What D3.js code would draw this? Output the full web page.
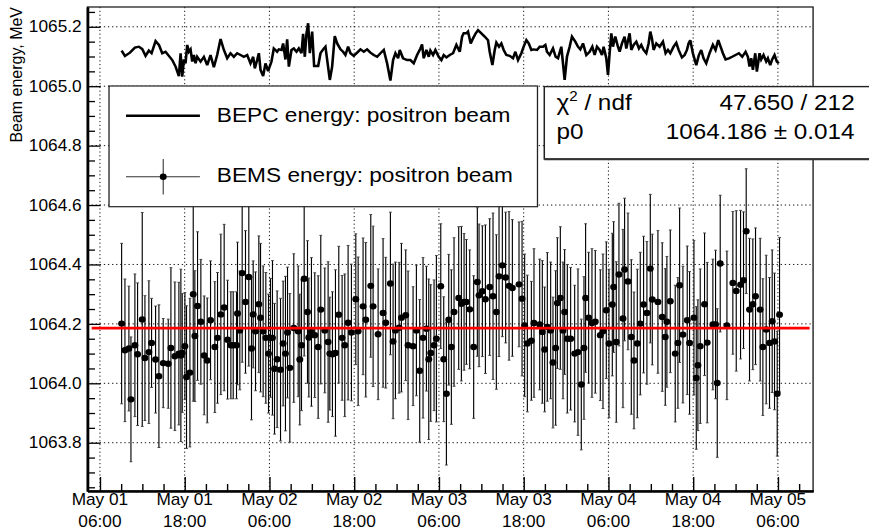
<!DOCTYPE html>
<html>
<head>
<meta charset="utf-8">
<script src="https://cdn.jsdelivr.net/npm/d3@7"></script>
<style>
  html, body { margin: 0; padding: 0; background: #fff; }
  svg { display: block; font-family: "Liberation Sans", Arial, Helvetica, sans-serif; }
</style>
</head>
<body>
<svg id="chart"></svg>
<script>
// ---- data: hours are counted from May 01 00:00 ----
const bemsHours = [
  9.07, 9.54, 10.10, 10.39, 10.95, 11.33, 11.99, 12.37, 12.93, 13.31,
  13.88, 14.35, 14.96, 15.67, 16.05, 16.61, 17.18, 17.46, 17.65, 18.03,
  18.26, 18.74, 19.21, 19.44, 19.82, 20.29, 20.76, 21.19, 21.66, 22.27,
  22.65, 23.12, 23.59, 24.07, 24.54, 24.87, 25.34, 25.48, 25.81, 26.14,
  26.61, 27.08, 27.46, 27.70, 28.03, 28.50, 28.74, 29.11, 29.49, 29.87,
  30.15, 30.43, 30.72, 31.09, 31.57, 31.94, 32.27, 32.56, 32.89, 33.45,
  34.07, 34.30, 34.54, 34.92, 35.39, 35.58, 35.95, 36.42, 36.90, 37.27,
  37.84, 38.31, 38.55, 38.92, 39.35, 39.82, 40.29, 40.67, 41.14, 41.61,
  42.23, 42.56, 43.26, 43.64, 44.35, 44.68, 45.39, 46.09, 46.47, 47.13,
  47.51, 47.84, 48.36, 48.69, 49.30, 49.63, 50.34, 50.81, 51.28, 51.75,
  52.23, 52.56, 52.84, 53.31, 53.64, 54.26, 54.68, 55.06, 55.39, 55.76,
  56.14, 56.80, 57.18, 57.56, 57.89, 58.36, 58.92, 59.44, 59.68, 60.15,
  60.58, 61.19, 61.66, 62.13, 62.51, 62.98, 63.45, 63.93, 64.40, 65.34,
  65.77, 66.14, 66.52, 67.09, 67.46, 68.27, 68.64, 68.97, 69.35, 69.82,
  70.15, 70.53, 70.77, 71.19, 71.57, 71.80, 72.18, 72.65, 73.22, 73.69,
  74.16, 74.54, 74.77, 75.20, 75.67, 76.14, 76.85, 77.23, 77.70, 78.08,
  78.55, 78.74, 79.11, 79.49, 80.06, 80.29, 80.77, 81.24, 81.62, 82.09,
  82.51, 82.98, 83.45, 83.93, 84.21, 85.01, 85.62, 86.05, 86.28, 86.76,
  87.46, 87.84, 88.08, 88.55, 89.16, 89.49, 90.11, 90.44, 90.67, 91.00,
  91.61, 91.99, 92.79, 93.17, 93.41, 93.83, 94.78, 95.62, 96.10, 96.71,
  97.13, 97.51, 97.98, 98.45, 98.83, 99.49, 99.87, 100.34, 100.81, 101.19,
  101.52, 101.90, 102.23
];
const bemsEnergy = [
  1064.201, 1064.111, 1064.117, 1063.946, 1064.128, 1064.098, 1064.215, 1064.085, 1064.105, 1064.136,
  1064.080, 1064.024, 1064.068, 1064.066, 1064.119, 1064.091, 1064.100, 1064.094, 1064.102, 1064.125,
  1064.021, 1064.036, 1064.300, 1064.159, 1064.260, 1064.207, 1064.094, 1064.077, 1064.212, 1064.122,
  1064.153, 1064.232, 1064.255, 1064.147, 1064.128, 1064.128, 1064.128, 1064.235, 1064.178, 1064.371,
  1064.274, 1064.358, 1064.117, 1064.232, 1064.175, 1064.266, 1064.221, 1064.175, 1064.153, 1064.100,
  1064.153, 1064.153, 1064.049, 1064.081, 1064.046, 1064.134, 1064.100, 1064.171, 1064.052, 1064.186,
  1064.175, 1064.080, 1064.128, 1064.352, 1064.240, 1064.154, 1064.173, 1064.162, 1064.122, 1064.248,
  1064.178, 1064.139, 1064.100, 1064.098, 1064.102, 1064.231, 1064.153, 1064.128, 1064.204, 1064.171,
  1064.283, 1064.175, 1064.259, 1064.214, 1064.328, 1064.259, 1064.165, 1064.237, 1064.204, 1064.336,
  1064.141, 1064.178, 1064.187, 1064.221, 1064.229, 1064.128, 1064.125, 1064.178, 1064.042, 1064.153,
  1064.184, 1064.081, 1064.102, 1064.128, 1064.150, 1064.327, 1064.081, 1063.965, 1064.214, 1064.122,
  1064.240, 1064.287, 1064.268, 1064.274, 1064.274, 1064.249, 1064.122, 1064.341, 1064.296, 1064.310,
  1064.283, 1064.324, 1064.293, 1064.240, 1064.360, 1064.397, 1064.356, 1064.328, 1064.321, 1064.333,
  1064.285, 1064.195, 1064.134, 1064.143, 1064.203, 1064.198, 1064.173, 1064.114, 1064.190, 1064.178,
  1064.070, 1064.119, 1064.270, 1064.287, 1064.178, 1064.240, 1064.150, 1064.150, 1064.100, 1064.105,
  1063.996, 1064.119, 1064.287, 1064.221, 1064.203, 1064.207, 1064.162, 1064.175, 1064.246, 1064.134,
  1064.265, 1064.324, 1064.139, 1064.366, 1064.218, 1064.383, 1064.343, 1064.156, 1064.077, 1064.134,
  1064.201, 1064.265, 1064.237, 1064.386, 1064.282, 1064.274, 1064.223, 1064.156, 1064.207, 1064.276,
  1064.100, 1064.136, 1064.330, 1064.164, 1064.212, 1064.136, 1064.221, 1064.018, 1064.061, 1064.125,
  1064.266, 1064.137, 1064.198, 1064.198, 1064.001, 1064.403, 1064.195, 1064.338, 1064.311, 1064.332,
  1064.347, 1064.512, 1064.248, 1064.266, 1064.293, 1064.248, 1064.122, 1064.181, 1064.136, 1064.209,
  1064.141, 1063.965, 1064.231
];
const bemsError = [
  0.27, 0.24, 0.21, 0.21, 0.24, 0.24, 0.36, 0.21, 0.24, 0.15,
  0.18, 0.24, 0.15, 0.15, 0.27, 0.25, 0.24, 0.29, 0.20, 0.18,
  0.24, 0.25, 0.36, 0.22, 0.25, 0.21, 0.20, 0.21, 0.20, 0.22,
  0.22, 0.27, 0.28, 0.20, 0.18, 0.18, 0.18, 0.24, 0.20, 0.30,
  0.24, 0.30, 0.24, 0.18, 0.20, 0.23, 0.25, 0.22, 0.22, 0.20,
  0.20, 0.26, 0.22, 0.23, 0.24, 0.21, 0.26, 0.22, 0.25, 0.25,
  0.22, 0.22, 0.22, 0.26, 0.24, 0.20, 0.25, 0.21, 0.24, 0.25,
  0.21, 0.27, 0.19, 0.21, 0.28, 0.23, 0.21, 0.24, 0.26, 0.23,
  0.22, 0.25, 0.23, 0.26, 0.24, 0.27, 0.22, 0.25, 0.22, 0.24,
  0.26, 0.23, 0.22, 0.25, 0.22, 0.25, 0.20, 0.22, 0.24, 0.27,
  0.21, 0.27, 0.23, 0.22, 0.28, 0.21, 0.21, 0.24, 0.22, 0.26,
  0.25, 0.24, 0.26, 0.23, 0.21, 0.20, 0.24, 0.25, 0.24, 0.22,
  0.25, 0.23, 0.28, 0.26, 0.27, 0.24, 0.22, 0.25, 0.23, 0.21,
  0.26, 0.24, 0.23, 0.20, 0.25, 0.22, 0.24, 0.21, 0.25, 0.23,
  0.22, 0.26, 0.22, 0.24, 0.23, 0.21, 0.25, 0.24, 0.23, 0.28,
  0.22, 0.24, 0.25, 0.22, 0.25, 0.24, 0.22, 0.26, 0.23, 0.25,
  0.24, 0.22, 0.27, 0.24, 0.30, 0.24, 0.23, 0.26, 0.23, 0.25,
  0.24, 0.23, 0.24, 0.25, 0.22, 0.24, 0.25, 0.23, 0.22, 0.24,
  0.23, 0.22, 0.26, 0.23, 0.25, 0.24, 0.26, 0.24, 0.22, 0.26,
  0.24, 0.27, 0.22, 0.25, 0.25, 0.23, 0.25, 0.24, 0.27, 0.25,
  0.23, 0.21, 0.24, 0.22, 0.23, 0.24, 0.23, 0.25, 0.22, 0.24,
  0.23, 0.21, 0.26
];
const bepcHours = [
  9.07, 9.54, 10.25, 10.95, 11.52, 11.99, 12.46, 12.93, 13.31, 13.88,
  14.35, 14.82, 15.29, 15.76, 16.24, 16.71, 17.18, 17.42, 17.65, 17.89,
  18.12, 18.36, 18.59, 18.83, 19.07, 19.30, 19.54, 19.77, 20.25, 20.72,
  21.19, 21.66, 22.13, 22.60, 23.08, 23.55, 24.02, 24.49, 24.96, 25.43,
  25.91, 26.38, 26.85, 27.32, 27.70, 27.93, 28.26, 28.50, 28.74, 29.11,
  29.44, 29.82, 30.06, 30.29, 30.62, 30.86, 31.09, 31.33, 31.71, 31.94,
  32.27, 32.51, 32.75, 33.12, 33.45, 33.83, 34.16, 34.54, 34.77, 35.01,
  35.25, 35.48, 35.72, 36.05, 36.33, 36.90, 37.23, 37.60, 37.93, 38.55,
  38.88, 39.25, 39.59, 40.06, 40.43, 40.76, 41.14, 41.47, 41.94, 42.42,
  42.89, 43.36, 43.83, 44.30, 44.77, 45.25, 45.72, 46.19, 46.66, 47.13,
  47.51, 47.84, 48.22, 48.45, 48.92, 49.49, 49.96, 50.43, 50.91, 51.38,
  51.61, 51.85, 52.23, 52.56, 52.79, 53.17, 53.50, 53.97, 54.35, 54.68,
  55.06, 55.53, 56.00, 56.47, 56.95, 57.28, 57.51, 57.89, 58.12, 58.50,
  58.83, 59.21, 59.54, 60.01, 60.48, 60.95, 61.19, 61.57, 61.90, 62.13,
  62.51, 62.84, 63.17, 63.55, 64.02, 64.49, 64.82, 65.20, 65.67, 66.00,
  66.38, 66.71, 67.09, 67.42, 67.89, 68.27, 68.74, 69.07, 69.30, 69.68,
  70.15, 70.53, 70.86, 71.33, 71.80, 72.13, 72.51, 72.84, 73.31, 73.69,
  74.02, 74.40, 74.87, 75.34, 75.72, 76.05, 76.38, 76.76, 77.09, 77.32,
  77.70, 77.94, 78.17, 78.41, 78.64, 78.97, 79.35, 79.59, 79.92, 80.29,
  80.53, 81.00, 81.24, 81.57, 81.95, 82.32, 82.65, 82.98, 83.36, 83.69,
  83.93, 84.16, 84.40, 84.78, 85.25, 85.72, 86.10, 86.43, 86.76, 87.23,
  87.61, 87.94, 88.41, 88.79, 89.12, 89.35, 89.59, 89.96, 90.44, 90.81,
  91.14, 91.47, 91.85, 92.32, 92.79, 93.17, 93.55, 93.97, 94.21, 94.59,
  95.06, 95.53, 96.00, 96.47, 96.95, 97.42, 97.75, 97.98, 98.22, 98.46,
  98.79, 99.02, 99.40, 99.63, 99.96, 100.34, 100.58, 100.91, 101.19, 101.52,
  101.85, 102.13
];
const bepcEnergy = [
  1065.120, 1065.102, 1065.113, 1065.130, 1065.133, 1065.125, 1065.102, 1065.120, 1065.111, 1065.152,
  1065.139, 1065.111, 1065.116, 1065.102, 1065.088, 1065.066, 1065.034, 1065.111, 1065.032, 1065.090,
  1065.077, 1065.139, 1065.116, 1065.124, 1065.083, 1065.105, 1065.077, 1065.099, 1065.083, 1065.099,
  1065.071, 1065.105, 1065.064, 1065.105, 1065.159, 1065.122, 1065.094, 1065.111, 1065.099, 1065.111,
  1065.105, 1065.099, 1065.105, 1065.077, 1065.099, 1065.060, 1065.088, 1065.111, 1065.055, 1065.034,
  1065.077, 1065.051, 1065.068, 1065.083, 1065.127, 1065.122, 1065.116, 1065.124, 1065.122, 1065.144,
  1065.090, 1065.158, 1065.066, 1065.122, 1065.127, 1065.116, 1065.127, 1065.111, 1065.176, 1065.099,
  1065.178, 1065.212, 1065.111, 1065.184, 1065.068, 1065.068, 1065.111, 1065.124, 1065.133, 1065.021,
  1065.066, 1065.169, 1065.144, 1065.124, 1065.116, 1065.105, 1065.133, 1065.111, 1065.102, 1065.113,
  1065.124, 1065.116, 1065.124, 1065.113, 1065.105, 1065.099, 1065.111, 1065.122, 1065.077, 1065.019,
  1065.088, 1065.111, 1065.094, 1065.122, 1065.094, 1065.088, 1065.088, 1065.077, 1065.105, 1065.127,
  1065.141, 1065.094, 1065.122, 1065.099, 1065.120, 1065.105, 1065.122, 1065.099, 1065.088, 1065.105,
  1065.097, 1065.105, 1065.111, 1065.139, 1065.116, 1065.167, 1065.178, 1065.178, 1065.184, 1065.144,
  1065.161, 1065.178, 1065.189, 1065.178, 1065.167, 1065.155, 1065.116, 1065.071, 1065.122, 1065.147,
  1065.133, 1065.144, 1065.122, 1065.105, 1065.102, 1065.094, 1065.116, 1065.088, 1065.111, 1065.133,
  1065.155, 1065.144, 1065.122, 1065.124, 1065.122, 1065.133, 1065.133, 1065.139, 1065.116, 1065.105,
  1065.127, 1065.099, 1065.094, 1065.133, 1065.021, 1065.099, 1065.133, 1065.167, 1065.150, 1065.133,
  1065.124, 1065.144, 1065.105, 1065.116, 1065.133, 1065.105, 1065.133, 1065.122, 1065.105, 1065.133,
  1065.094, 1065.038, 1065.111, 1065.178, 1065.133, 1065.167, 1065.133, 1065.116, 1065.144, 1065.167,
  1065.127, 1065.178, 1065.122, 1065.139, 1065.150, 1065.127, 1065.139, 1065.122, 1065.111, 1065.144,
  1065.184, 1065.161, 1065.122, 1065.144, 1065.133, 1065.150, 1065.111, 1065.122, 1065.111, 1065.133,
  1065.146, 1065.122, 1065.097, 1065.105, 1065.122, 1065.144, 1065.155, 1065.111, 1065.071, 1065.105,
  1065.122, 1065.094, 1065.077, 1065.111, 1065.139, 1065.122, 1065.155, 1065.127, 1065.111, 1065.090,
  1065.094, 1065.099, 1065.105, 1065.111, 1065.099, 1065.116, 1065.099, 1065.066, 1065.094, 1065.055,
  1065.111, 1065.049, 1065.111, 1065.090, 1065.105, 1065.083, 1065.094, 1065.071, 1065.090, 1065.105,
  1065.083, 1065.077
];

// axis ranges and ticks
const xRangeHours = [4.23, 106.98];
const xMajorHours = [6, 18, 30, 42, 54, 66, 78, 90, 102];
const yRange = [1063.6375, 1065.2666];
const yMajorTicks = [1063.8, 1064.0, 1064.2, 1064.4, 1064.6, 1064.8, 1065.0, 1065.2];

// constant fit
const fitP0 = 1064.186, fitP0Err = 0.014, fitChi2 = 47.650, fitNdf = 212;
const fitRangeHours = [4.83, 106.49];

const legendLabels = ["BEPC energy: positron beam", "BEMS energy: positron beam"];
const yTitle = "Beam energy, MeV";

// ---- drawing ----
// The canvas is laid out on an 805-wide grid and stretched to the 869 px window.
const W = 869, H = 530, VW = 805;
const svg = d3.select("#chart")
  .attr("width", W).attr("height", H)
  .attr("viewBox", `0 0 ${VW} ${H}`)
  .attr("preserveAspectRatio", "none");

const frame = { left: 81, right: 753.2, top: 7, bottom: 491 };
const t0 = new Date(2015, 4, 1, 0, 0, 0);
const at = h => new Date(t0.getTime() + h * 3600e3);

const x = d3.scaleTime().domain(xRangeHours.map(at)).range([frame.left, frame.right]);
const y = d3.scaleLinear().domain(yRange).range([frame.bottom, frame.top]);

// background
svg.append("rect").attr("width", VW).attr("height", H).attr("fill", "#fff");

// dotted grid at the major ticks
const grid = svg.append("g")
  .attr("stroke", "#000").attr("stroke-width", 0.9).attr("stroke-dasharray", "1.2,2.6");
grid.selectAll("line.gx").data(xMajorHours).join("line").attr("class", "gx")
  .attr("x1", d => x(at(d))).attr("x2", d => x(at(d)))
  .attr("y1", frame.top).attr("y2", frame.bottom);
grid.selectAll("line.gy").data(yMajorTicks).join("line").attr("class", "gy")
  .attr("x1", frame.left).attr("x2", frame.right)
  .attr("y1", d => y(d)).attr("y2", d => y(d));

// frame (top and right edges)
svg.append("rect")
  .attr("x", frame.left).attr("y", frame.top)
  .attr("width", frame.right - frame.left).attr("height", frame.bottom - frame.top)
  .attr("fill", "none").attr("stroke", "#222").attr("stroke-width", 1.3);

// BEPC energy line
const bepc = bepcHours.map((h, i) => ({ t: at(h), e: bepcEnergy[i] }));
svg.append("path").datum(bepc)
  .attr("fill", "none").attr("stroke", "#000").attr("stroke-width", 2.4)
  .attr("stroke-linejoin", "miter").attr("stroke-miterlimit", 3)
  .attr("d", d3.line().x(d => x(d.t)).y(d => y(d.e)));

// BEMS points with error bars
const bems = bemsHours.map((h, i) => ({ t: at(h), e: bemsEnergy[i], err: bemsError[i] }));
const eb = svg.append("g").attr("stroke", "#000").attr("stroke-width", 1.05);
eb.selectAll("line.bar").data(bems).join("line").attr("class", "bar")
  .attr("x1", d => x(d.t)).attr("x2", d => x(d.t))
  .attr("y1", d => y(d.e - d.err)).attr("y2", d => y(d.e + d.err));
const caps = svg.append("g").attr("stroke", "#444").attr("stroke-width", 1);
caps.selectAll("line.ct").data(bems).join("line").attr("class", "ct")
  .attr("x1", d => x(d.t) - 1.3).attr("x2", d => x(d.t) + 1.3)
  .attr("y1", d => y(d.e + d.err)).attr("y2", d => y(d.e + d.err));
caps.selectAll("line.cb").data(bems).join("line").attr("class", "cb")
  .attr("x1", d => x(d.t) - 1.3).attr("x2", d => x(d.t) + 1.3)
  .attr("y1", d => y(d.e - d.err)).attr("y2", d => y(d.e - d.err));
svg.append("g").selectAll("circle").data(bems).join("circle")
  .attr("cx", d => x(d.t)).attr("cy", d => y(d.e)).attr("r", 3.2)
  .attr("fill", "#000");

// fit result
svg.append("line")
  .attr("x1", x(at(fitRangeHours[0]))).attr("x2", x(at(fitRangeHours[1])))
  .attr("y1", y(fitP0)).attr("y2", y(fitP0))
  .attr("stroke", "#ff0000").attr("stroke-width", 2.8);

// axes
const fontAxis = 16;
const xMajor = xMajorHours.map(at);
const xMinor = d3.timeHour.every(3).range(x.domain()[0], x.domain()[1])
  .filter(d => d.getHours() % 12 !== 6);
const yMinor = y.ticks(30).filter(v => Math.abs(v * 5 - Math.round(v * 5)) > 1e-6);

const gxMinor = svg.append("g").attr("transform", `translate(0,${frame.bottom})`)
  .call(d3.axisBottom(x).tickValues(xMinor).tickSize(-7).tickSizeOuter(0).tickFormat(""));
const gx = svg.append("g").attr("transform", `translate(0,${frame.bottom})`)
  .call(d3.axisBottom(x).tickValues(xMajor).tickSize(-14).tickSizeOuter(0).tickFormat(""));
const gyMinor = svg.append("g").attr("transform", `translate(${frame.left},0)`)
  .call(d3.axisLeft(y).tickValues(yMinor).tickSize(-7).tickSizeOuter(0).tickFormat(""));
const gy = svg.append("g").attr("transform", `translate(${frame.left},0)`)
  .call(d3.axisLeft(y).tickValues(yMajorTicks).tickSize(-12).tickSizeOuter(0)
    .tickPadding(5.4).tickFormat(d3.format(".1f")));

[gxMinor, gx, gyMinor, gy].forEach(g => {
  g.selectAll(".tick line").attr("stroke", "#000").attr("stroke-width", 1.3);
  g.select(".domain").attr("stroke", "#000").attr("stroke-width", 2.2);
});
gy.selectAll(".tick text")
  .attr("font-size", fontAxis).attr("fill", "#000")
  .attr("font-family", "Liberation Sans, Arial, sans-serif");

// two-line date labels under the time axis
const fmtDay = d3.timeFormat("%b %d"), fmtTime = d3.timeFormat("%H:%M");
const xl = svg.append("g").attr("font-size", fontAxis).attr("text-anchor", "middle").attr("fill", "#000");
xl.selectAll("text").data(xMajor).join("text")
  .each(function (d) {
    const t = d3.select(this);
    t.append("tspan").attr("x", x(d)).attr("y", 505.5).text(fmtDay(d));
    t.append("tspan").attr("x", x(d)).attr("y", 527).text(fmtTime(d));
  });

// y axis title
svg.append("text")
  .attr("transform", `translate(20.6,${frame.top}) rotate(-90)`)
  .attr("text-anchor", "end").attr("font-size", 16).attr("fill", "#000")
  .text(yTitle);

// legend
const lg = svg.append("g");
lg.append("rect").attr("x", 101).attr("y", 86).attr("width", 396.9).attr("height", 120.7)
  .attr("fill", "#fff").attr("stroke", "#222").attr("stroke-width", 1.2);
lg.append("line").attr("x1", 116.7).attr("x2", 185.2).attr("y1", 115.7).attr("y2", 115.7)
  .attr("stroke", "#000").attr("stroke-width", 2.4);
lg.append("line").attr("x1", 116.7).attr("x2", 185.2).attr("y1", 176.7).attr("y2", 176.7)
  .attr("stroke", "#333").attr("stroke-width", 1);
lg.append("line").attr("x1", 151.2).attr("x2", 151.2).attr("y1", 159).attr("y2", 194.5)
  .attr("stroke", "#333").attr("stroke-width", 1);
lg.append("circle").attr("cx", 151.2).attr("cy", 176.7).attr("r", 3.2).attr("fill", "#000");
lg.selectAll("text").data(legendLabels).join("text")
  .attr("x", 200.9).attr("y", (d, i) => i === 0 ? 121.8 : 182)
  .attr("font-size", 21).attr("fill", "#000").text(d => d);

// fit statistics box
const st = svg.append("g");
st.append("rect").attr("x", 504.2).attr("y", 86.6).attr("width", 320).attr("height", 72.4)
  .attr("fill", "#fff").attr("stroke", "#222").attr("stroke-width", 1.4);
st.append("line").attr("x1", 504.2).attr("x2", VW).attr("y1", 159.2).attr("y2", 159.2)
  .attr("stroke", "#333").attr("stroke-width", 2);
const chiLabel = st.append("text").attr("x", 515.5).attr("y", 110.5)
  .attr("font-size", 22.5).attr("fill", "#000");
chiLabel.append("tspan").text("\u03c7");
chiLabel.append("tspan").attr("font-size", 14).attr("dy", -9).text("2");
chiLabel.append("tspan").attr("dy", 9).text(" / ndf");
st.append("text").attr("x", 791.7).attr("y", 110.5).attr("text-anchor", "end")
  .attr("font-size", 22.5).attr("fill", "#000")
  .text(`${d3.format(".3f")(fitChi2)} / ${fitNdf}`);
st.append("text").attr("x", 515.5).attr("y", 139.5)
  .attr("font-size", 22.5).attr("fill", "#000").text("p0");
st.append("text").attr("x", 791.7).attr("y", 139.5).attr("text-anchor", "end")
  .attr("font-size", 22.5).attr("fill", "#000")
  .text(`${d3.format(".3f")(fitP0)} \u00b1 ${d3.format(".3f")(fitP0Err)}`);
</script>
</body>
</html>
